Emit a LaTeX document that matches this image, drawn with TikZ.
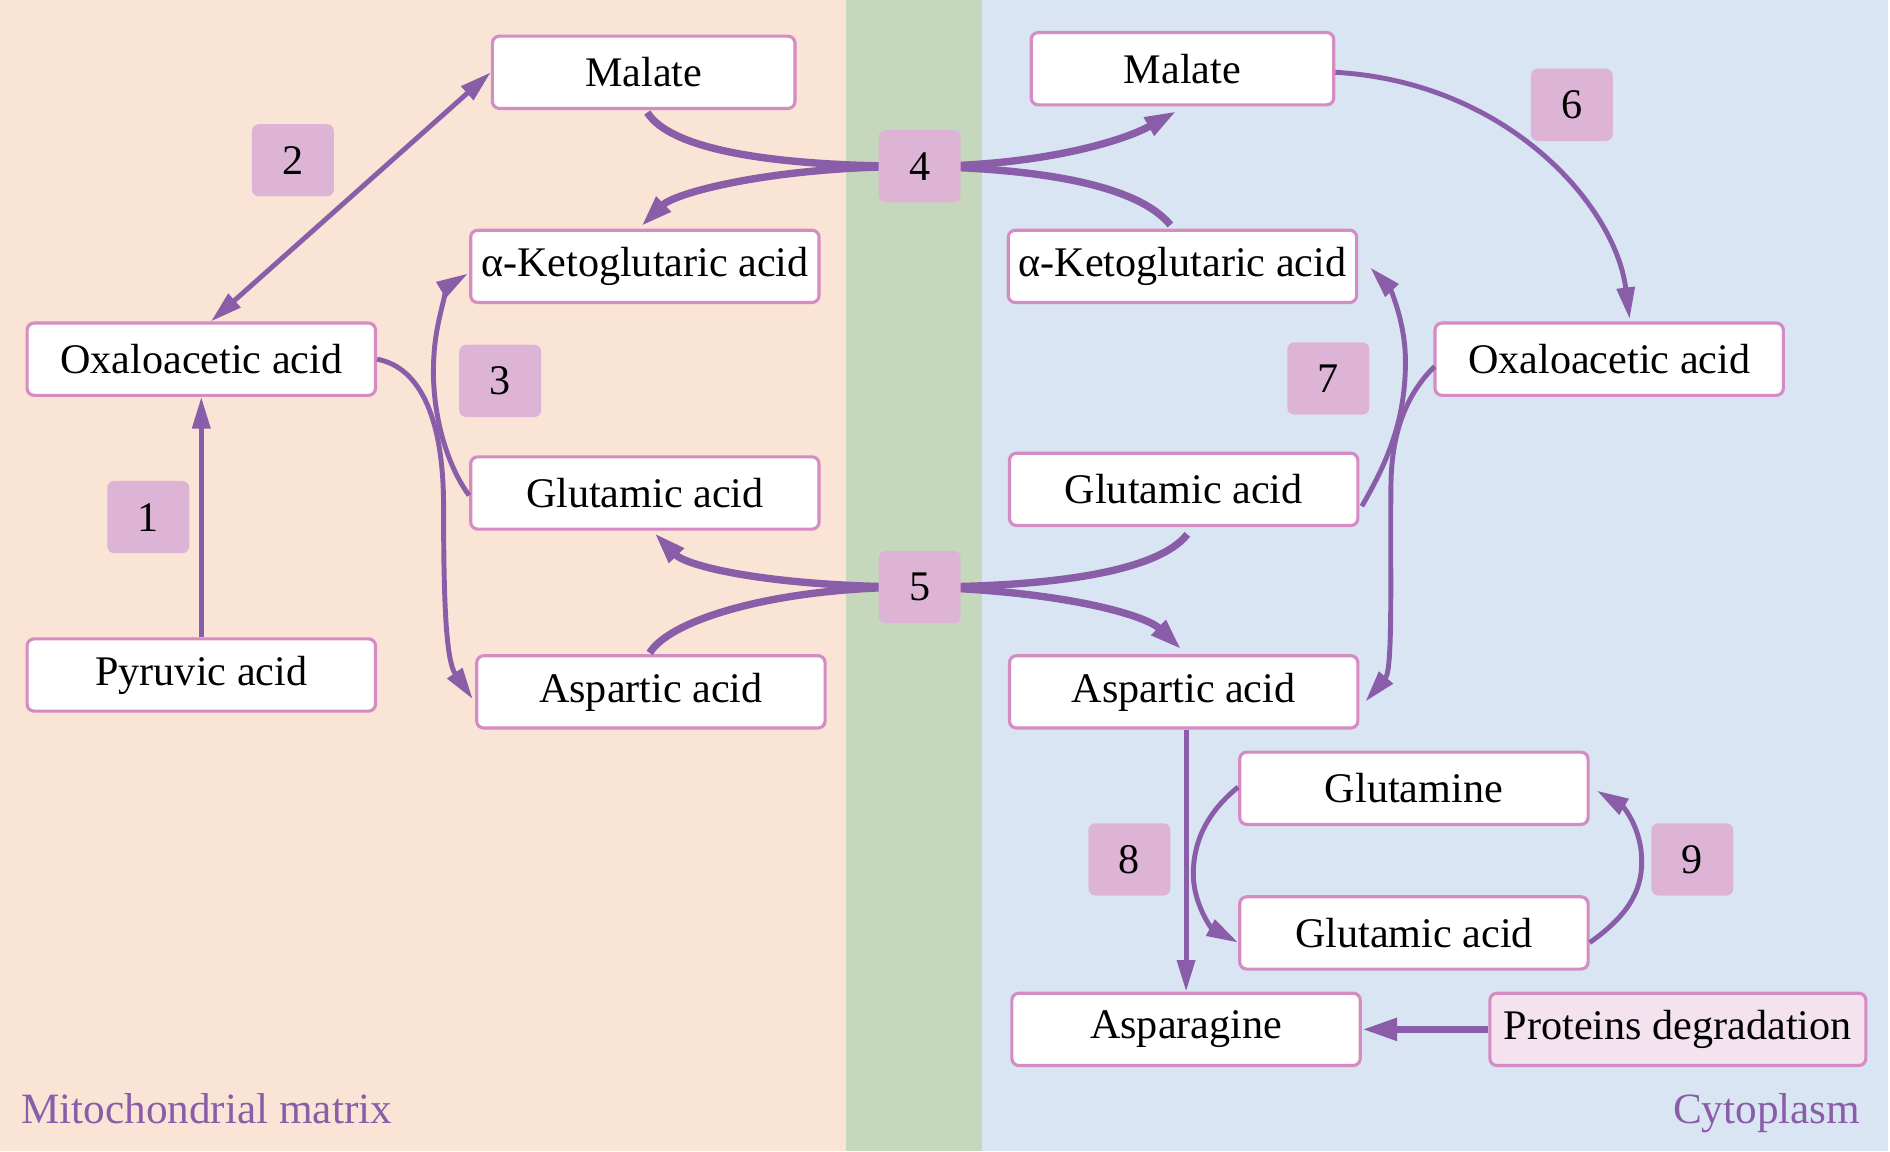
\documentclass[tikz,border=0pt]{standalone}
\usepackage{fontspec}
\setmainfont{Liberation Serif}
\usetikzlibrary{arrows.meta,calc}
\definecolor{peach}{HTML}{FAE4D6}
\definecolor{memb}{HTML}{C5D8BB}
\definecolor{cyto}{HTML}{DAE5F4}
\definecolor{boxc}{HTML}{D48CC3}
\definecolor{labc}{HTML}{DDB4D5}
\definecolor{arrc}{HTML}{8A5DA8}
\definecolor{protc}{HTML}{F5E2EF}
\tikzset{
  every node/.style={font=\fontsize{12}{14}\selectfont},
  box/.style={draw=boxc, line width=0.9pt, fill=white, rounded corners=2pt,
    minimum width=3.484cm, minimum height=0.723cm, inner sep=0pt},
  mbox/.style={box, minimum width=3.026cm},
  lab/.style={fill=labc, rounded corners=2pt, minimum width=0.82cm,
    minimum height=0.723cm, inner sep=0pt},
  arr/.style={draw=arrc, line width=1.4pt, -{Triangle[length=9pt,width=5pt]}},
  thk/.style={draw=arrc, line width=2.1pt},
  thkarr/.style={thk, -{Triangle[length=9pt,width=5.5pt]}},
  region/.style={text=arrc, font=\fontsize{12.3}{14}\selectfont}
}
\begin{document}
\begin{tikzpicture}[x=0.012054cm,y=-0.012054cm]
\useasboundingbox (0,0) rectangle (1568,955);
% backgrounds
\fill[peach] (0,0) rectangle (702,955);
\fill[memb] (702,0) rectangle (815,955);
\fill[cyto] (815,0) rectangle (1566,955);

% boxes
\node[mbox] (mL) at (534,60) {Malate};
\node[box] (kL) at (535,221) {α-Ketoglutaric acid};
\node[box] (oxL) at (167,298) {Oxaloacetic acid};
\node[box] (gluL) at (535,409) {Glutamic acid};
\node[box] (pyr) at (167,560) {Pyruvic acid};
\node[box] (aspL) at (540,574) {Aspartic acid};

\node[mbox] (mR) at (981,57) {Malate};
\node[box] (kR) at (981,221) {α-Ketoglutaric acid};
\node[box] (oxR) at (1335,298) {Oxaloacetic acid};
\node[box] (gluR) at (982,406) {Glutamic acid};
\node[box] (aspR) at (982,574) {Aspartic acid};
\node[box] (gln) at (1173,654) {Glutamine};
\node[box] (gluR2) at (1173,774) {Glutamic acid};
\node[box] (asn) at (984,854) {Asparagine};
\node[box, fill=protc, minimum width=3.76cm] (prot) at (1392,854) {Proteins degradation};

% label square positions (squares drawn later on top)
\coordinate (c4) at (763,138);
\coordinate (c5) at (763,487);

% 1
\draw[arr] (pyr.north) -- (oxL.south);
% 2
\draw[arr, {Triangle[length=9pt,width=5pt]}-{Triangle[length=9pt,width=5pt]}]
  ($(oxL.north)+(8,0)$) -- (mL.west);
% 3
\draw[arr] (oxL.east) .. controls (350,305) and (368,350) .. (368,420)
  .. controls (368,500) and (370,548) .. ($(aspL.west)+(-2,6)$);
\draw[arr] ($(gluL.west)+(0,2)$) .. controls (370,385) and (357,340) .. (360,295)
  .. controls (362,260) and (375,235) .. ($(kL.west)+(-1,6)$);
% 4
\draw[thk] ($(mL.south)+(3,2)$) .. controls (555,122) and (630,138) .. (c4);
\draw[thkarr] (c4) .. controls (640,138) and (560,160) .. ($(kL.north)+(-3,-2)$);
\draw[thkarr] (c4) .. controls (860,138) and (930,118) .. ($(mR.south)+(-5,4)$);
\draw[thk] ($(kR.north)+(-10,-3)$) .. controls (945,155) and (870,140) .. (c4);
% 5
\draw[thkarr] (c5) .. controls (640,487) and (570,470) .. ($(gluL.south)+(8,2)$);
\draw[thk] ($(aspL.north)+(-1,-1)$) .. controls (555,515) and (640,487) .. (c5);
\draw[thk] ($(gluR.south)+(3,6)$) .. controls (960,475) and (870,487) .. (c5);
\draw[thkarr] (c5) .. controls (880,490) and (950,510) .. ($(aspR.north)+(-2,-4)$);
% 6
\draw[arr] ($(mR.east)+(0,3)$) .. controls (1250,68) and (1340,170) .. ($(oxR.north)+(17,-2)$);
% 7
\draw[arr] ($(gluR.east)+(2,14)$) .. controls (1150,385) and (1166,350) .. (1166,300)
  .. controls (1166,265) and (1152,238) .. ($(kR.east)+(10,1)$);
\draw[arr] ($(oxR.west)+(1,6)$) .. controls (1172,322) and (1155,350) .. (1154,400)
  .. controls (1153,470) and (1156,555) .. ($(aspR.east)+(5,8)$);
% 8
\draw[arr] (aspR.south -| asn.north) -- (asn.north);
\draw[arr] ($(gln.west)+(0,-1)$) .. controls (1000,675) and (990,700) .. (990,725)
  .. controls (990,750) and (1005,770) .. ($(gluR2.west)+(0,8)$);
% 9
\draw[arr] ($(gluR2.east)+(0,8)$) .. controls (1350,760) and (1362,740) .. (1362,715)
  .. controls (1362,685) and (1345,668) .. ($(gln.east)+(6,2)$);
% proteins
\draw[draw=arrc, line width=2.2pt, -{Triangle[length=10pt,width=6pt]}] (prot.west) -- (asn.east);

% labels
\node[lab] (l1) at (123,429) {1};
\node[lab] (l2) at (243,133) {2};
\node[lab] (l3) at (415,316) {3};
\node[lab] (l4) at (c4) {4};
\node[lab] (l5) at (c5) {5};
\node[lab] (l6) at (1304,87) {6};
\node[lab] (l7) at (1102,314) {7};
\node[lab] (l8) at (937,713) {8};
\node[lab] (l9) at (1404,713) {9};

% region names
\node[region, anchor=base west, inner sep=0pt] (mito) at (17,932) {Mitochondrial matrix};
\node[region, anchor=base east, inner sep=0pt] (cyt) at (1544,932) {Cytoplasm};
\end{tikzpicture}
\end{document}
